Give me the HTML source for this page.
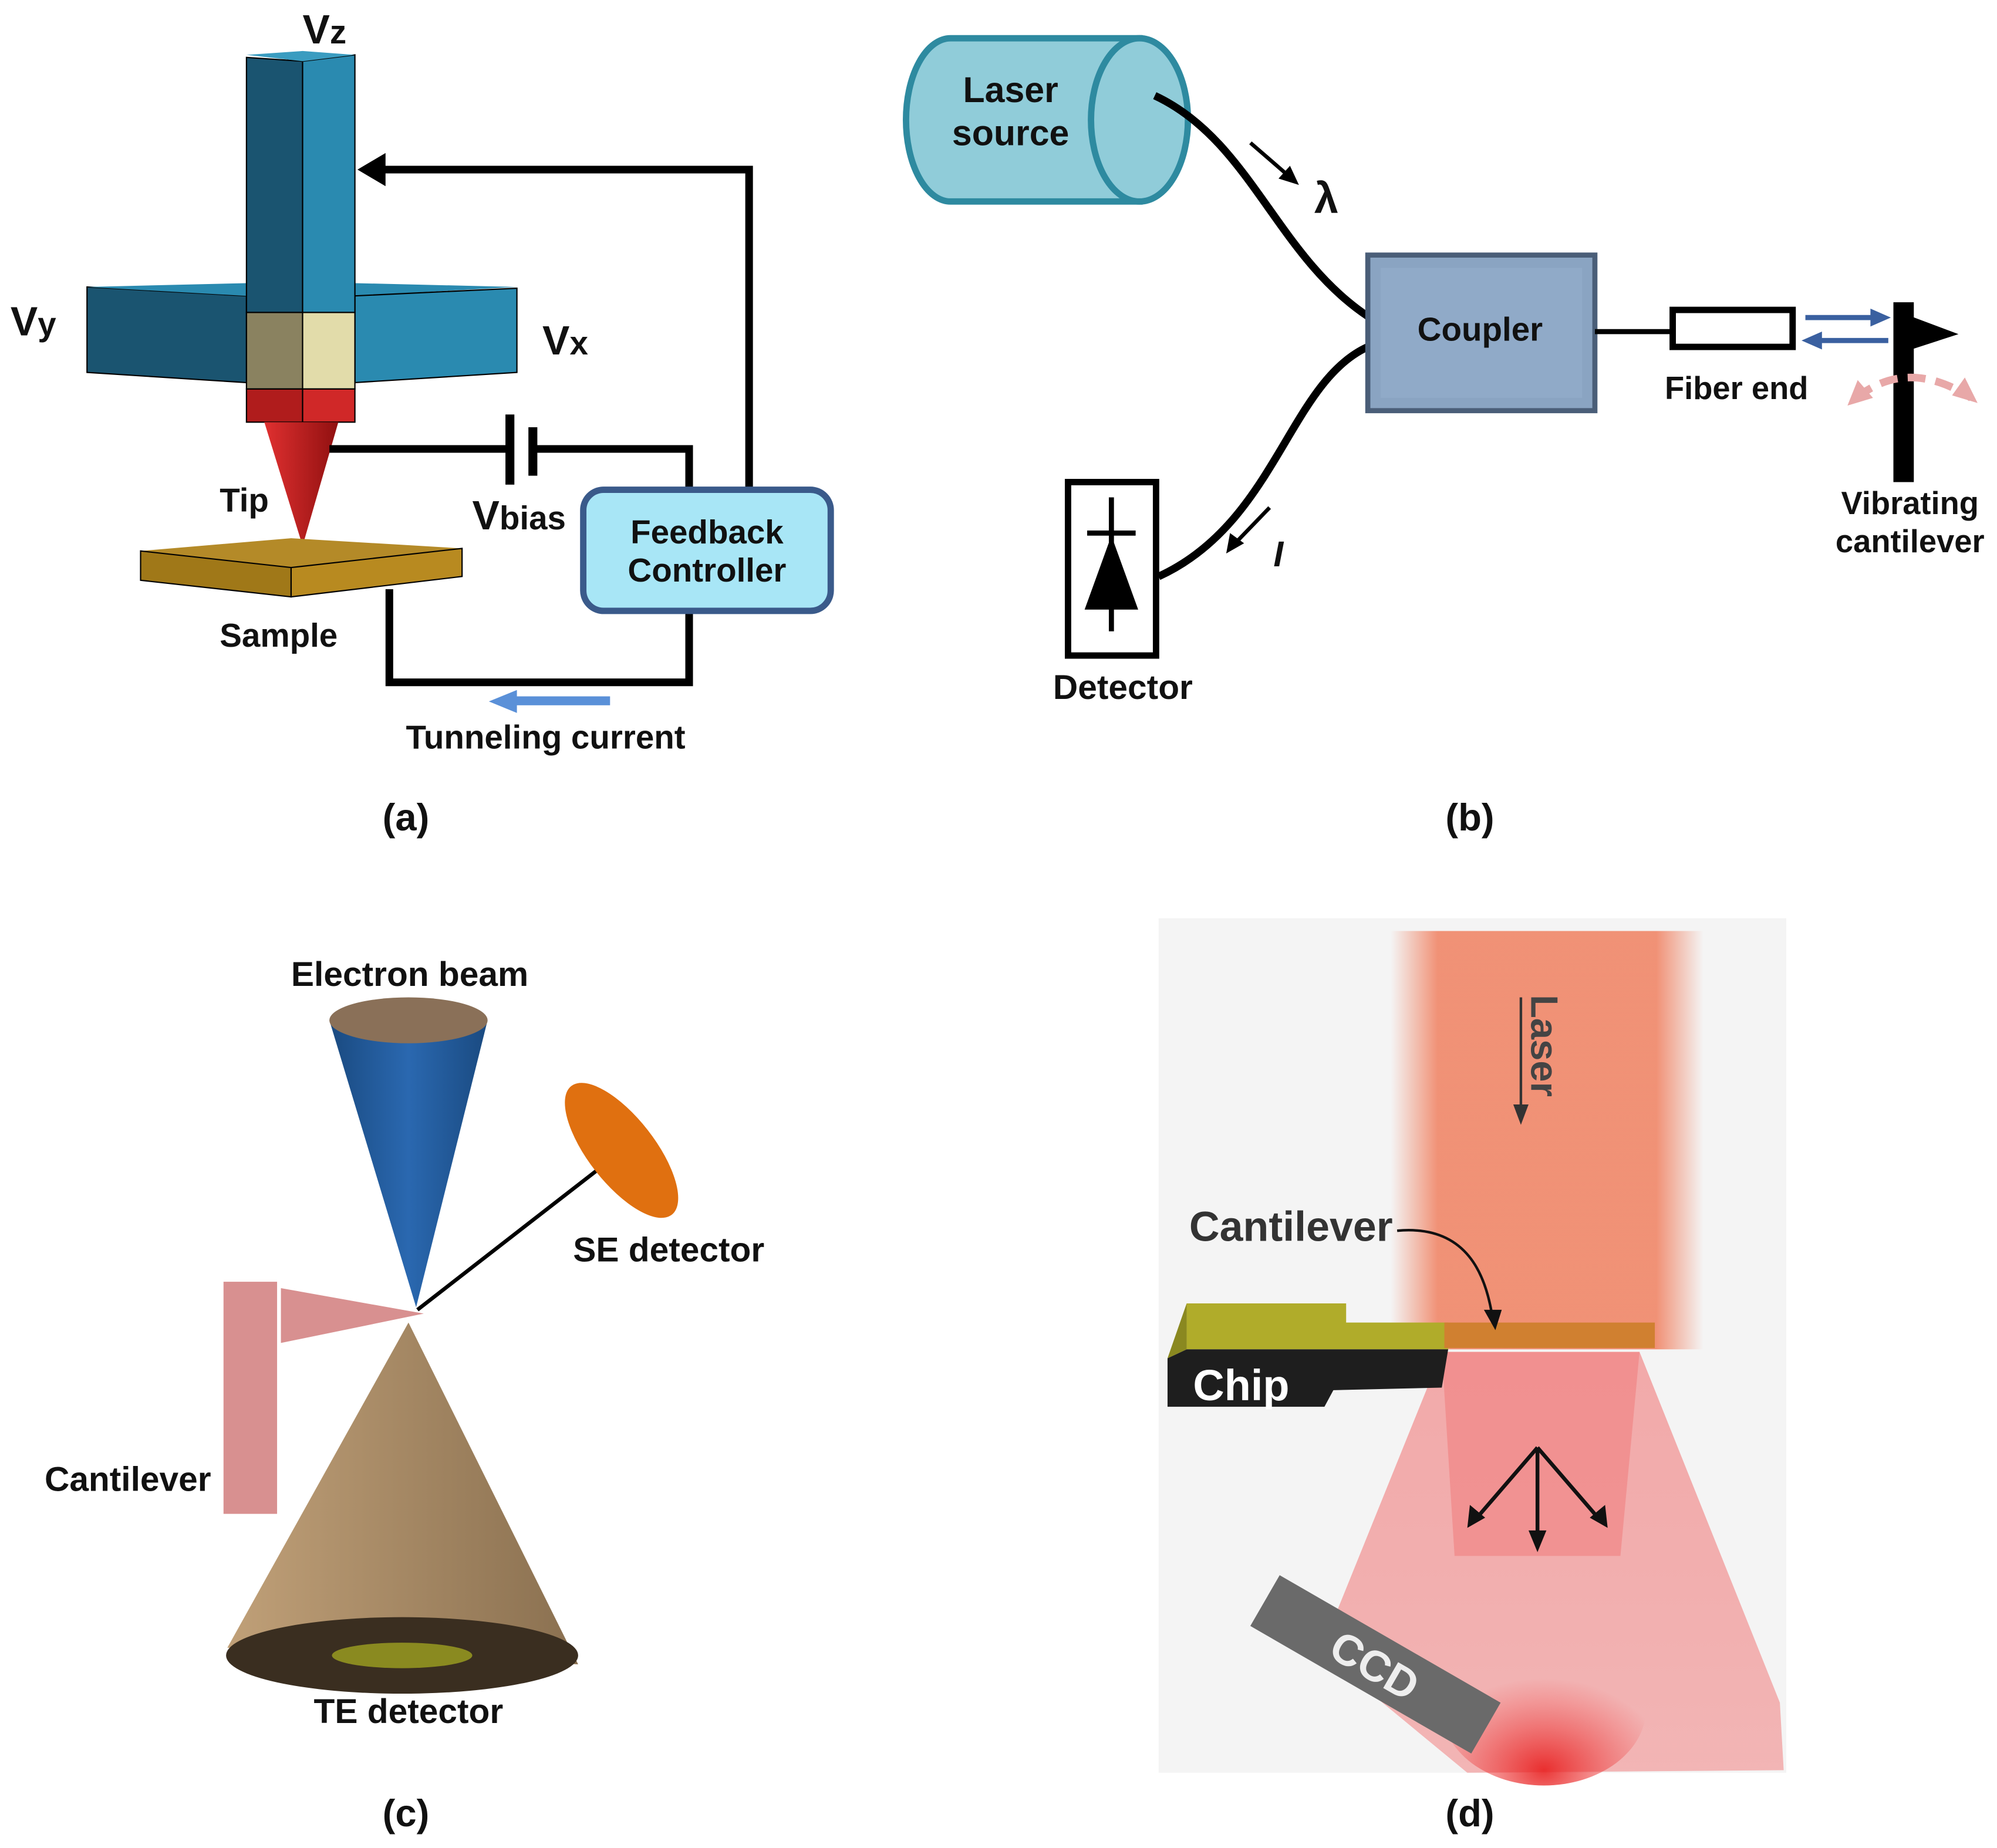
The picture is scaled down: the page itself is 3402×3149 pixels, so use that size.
<!DOCTYPE html>
<html><head><meta charset="utf-8"><style>
html,body{margin:0;padding:0;background:#fff}
svg{display:block}
text{font-family:"Liberation Sans",sans-serif;font-weight:bold;fill:#111}
</style></head><body>
<svg width="3402" height="3149" viewBox="0 0 1565 1449" xmlns="http://www.w3.org/2000/svg">
<defs>
<linearGradient id="lz" x1="0" x2="1"><stop offset="0" stop-color="#f08060" stop-opacity="0"/><stop offset="0.15" stop-color="#f08060" stop-opacity="0.85"/><stop offset="0.85" stop-color="#f08060" stop-opacity="0.85"/><stop offset="1" stop-color="#f08060" stop-opacity="0"/></linearGradient>
<linearGradient id="fan" x1="0" y1="0" x2="0" y2="1"><stop offset="0" stop-color="#f06060" stop-opacity="0.5"/><stop offset="1" stop-color="#f04040" stop-opacity="0.35"/></linearGradient>
<radialGradient id="spot" cx="0.5" cy="0.9" r="0.6"><stop offset="0" stop-color="#e82020" stop-opacity="0.9"/><stop offset="1" stop-color="#f04040" stop-opacity="0"/></radialGradient>
<linearGradient id="tip" x1="0" x2="1"><stop offset="0" stop-color="#e03030"/><stop offset="1" stop-color="#901010"/></linearGradient>
<linearGradient id="cone" x1="0" x2="1"><stop offset="0" stop-color="#c0a078"/><stop offset="1" stop-color="#8a7050"/></linearGradient>
<linearGradient id="blue" x1="0" x2="1"><stop offset="0" stop-color="#1a4a80"/><stop offset="0.5" stop-color="#2a68b0"/><stop offset="1" stop-color="#1a4a80"/></linearGradient>
</defs>

<!-- Panel (a) -->
<polygon points="68,225 193,232 193,300 68,292" fill="#1a5470" stroke="#000" stroke-width="1"/>
<polygon points="68,225 193,222 278,222 405,225 278,232 193,232" fill="#2a8ab0"/>
<polygon points="278,232 405,226 405,292 278,300" fill="#2a8ab0" stroke="#000" stroke-width="1"/>
<polygon points="193,45 237,48 237,245 193,245" fill="#1a5470" stroke="#000" stroke-width="1"/>
<polygon points="237,48 278,43 278,245 237,245" fill="#2a8ab0" stroke="#000" stroke-width="1"/>
<polygon points="193,43 237,40 278,43 237,48" fill="#3a9cc0"/>
<rect x="193" y="245" width="44" height="60" fill="#8a8260" stroke="#000" stroke-width="1"/>
<rect x="237" y="245" width="41" height="60" fill="#e2dcaa" stroke="#000" stroke-width="1"/>
<rect x="193" y="305" width="44" height="26" fill="#b01c1c" stroke="#000" stroke-width="1"/>
<rect x="237" y="305" width="41" height="26" fill="#d02828" stroke="#000" stroke-width="1"/>
<polygon points="207,331 265,331 237,428" fill="url(#tip)"/>
<polygon points="110,432 228,422 362,430 228,445" fill="#b48a28"/>
<polygon points="110,432 228,445 228,468 110,455" fill="#a07818" stroke="#000" stroke-width="1"/>
<polygon points="228,445 362,430 362,452 228,468" fill="#b88a20" stroke="#000" stroke-width="1"/>
<g fill="none" stroke="#000" stroke-width="6">
<polyline points="587,383 587,133 300,133"/>
<polyline points="258,352 400,352"/>
<polyline points="418,352 540,352 540,383"/>
<polyline points="305,462 305,535 540,535 540,480"/>
</g>
<polygon points="280,133 302,120 302,146" fill="#000"/>
<rect x="396" y="325" width="7" height="55" fill="#000"/>
<rect x="414" y="335" width="7" height="38" fill="#000"/>
<rect x="457" y="384" width="194" height="95" rx="16" fill="#a8e6f6" stroke="#3a5a8a" stroke-width="5"/>
<text x="554" y="426" font-size="26" text-anchor="middle">Feedback</text>
<text x="554" y="456" font-size="26" text-anchor="middle">Controller</text>
<rect x="400" y="546" width="78" height="7" fill="#5a90d8"/>
<polygon points="383,550 405,541 405,559" fill="#5a90d8"/>
<text x="237" y="34" font-size="32">V<tspan font-size="26">z</tspan></text>
<text x="8" y="263" font-size="32">V<tspan font-size="26">y</tspan></text>
<text x="425" y="278" font-size="32">V<tspan font-size="26">x</tspan></text>
<text x="172" y="401" font-size="26">Tip</text>
<text x="370" y="415" font-size="32">V<tspan font-size="26">bias</tspan></text>
<text x="172" y="507" font-size="26">Sample</text>
<text x="318" y="587" font-size="26">Tunneling current</text>
<text x="318" y="651" font-size="30" text-anchor="middle">(a)</text>

<!-- Panel (b) -->
<path d="M745,30 L893,30 L893,158 L745,158 A35,64 0 0 1 745,30 Z" fill="#90ccd9" stroke="#2e8aa0" stroke-width="5"/>
<ellipse cx="893" cy="94" rx="38" ry="64" fill="#90ccd9" stroke="#2e8aa0" stroke-width="5"/>
<text x="792" y="80" font-size="28" text-anchor="middle">Laser</text>
<text x="792" y="114" font-size="28" text-anchor="middle">source</text>
<path d="M905,75 C980,110 1000,200 1072,248" fill="none" stroke="#000" stroke-width="6"/>
<path d="M1072,272 C1010,300 1000,410 908,452" fill="none" stroke="#000" stroke-width="6"/>
<rect x="1072" y="200" width="178" height="122" fill="#8aa4c2" stroke="#4a5e78" stroke-width="4"/>
<rect x="1082" y="210" width="158" height="102" fill="#90aac8"/>
<text x="1160" y="267" font-size="26" text-anchor="middle">Coupler</text>
<line x1="1250" y1="260" x2="1310" y2="260" stroke="#000" stroke-width="4"/>
<rect x="1311" y="243" width="94" height="29" fill="#fff" stroke="#000" stroke-width="5"/>
<line x1="1415" y1="249" x2="1470" y2="249" stroke="#3a60a0" stroke-width="4"/>
<polygon points="1482,249 1466,242 1466,256" fill="#3a60a0"/>
<line x1="1425" y1="267" x2="1480" y2="267" stroke="#3a60a0" stroke-width="4"/>
<polygon points="1412,267 1428,260 1428,274" fill="#3a60a0"/>
<rect x="1484" y="237" width="16" height="141" fill="#000"/>
<polygon points="1495,247 1535,262 1495,275" fill="#000"/>
<path d="M1455,312 Q1495,280 1545,312" fill="none" stroke="#e8a8a8" stroke-width="6" stroke-dasharray="14,8"/>
<polygon points="1448,318 1456,298 1468,312" fill="#e8a8a8"/>
<polygon points="1550,316 1540,296 1530,310" fill="#e8a8a8"/>
<text x="1361" y="313" font-size="25" text-anchor="middle">Fiber end</text>
<text x="1497" y="403" font-size="25" text-anchor="middle">Vibrating</text>
<text x="1497" y="433" font-size="25" text-anchor="middle">cantilever</text>
<rect x="837" y="378" width="69" height="136" fill="#fff" stroke="#000" stroke-width="5"/>
<line x1="871" y1="390" x2="871" y2="495" stroke="#000" stroke-width="4"/>
<line x1="852" y1="418" x2="890" y2="418" stroke="#000" stroke-width="4"/>
<polygon points="871,420 850,478 892,478" fill="#000"/>
<text x="880" y="548" font-size="27" text-anchor="middle">Detector</text>
<line x1="980" y1="112" x2="1010" y2="138" stroke="#000" stroke-width="3"/>
<polygon points="1018,145 1002,140 1011,130" fill="#000"/>
<text x="1030" y="167" font-size="34" font-weight="normal">λ</text>
<line x1="995" y1="398" x2="968" y2="426" stroke="#000" stroke-width="3"/>
<polygon points="961,434 964,418 975,426" fill="#000"/>
<text x="998" y="444" font-size="28" font-style="italic">I</text>
<text x="1152" y="651" font-size="30" text-anchor="middle">(b)</text>

<!-- Panel (c) -->
<polygon points="258,800 382,800 326,1025" fill="url(#blue)"/>
<ellipse cx="320" cy="800" rx="62" ry="18" fill="#8a7058"/>
<line x1="327" y1="1027" x2="475" y2="912" stroke="#000" stroke-width="3"/>
<ellipse cx="487" cy="902" rx="26" ry="64" fill="#e07010" transform="rotate(-38 487 902)"/>
<rect x="175" y="1005" width="42" height="182" fill="#d89090"/>
<polygon points="220,1010 332,1030 220,1053" fill="#d89090"/>
<polygon points="320,1037 178,1292 453,1305" fill="url(#cone)"/>
<ellipse cx="315" cy="1298" rx="138" ry="30" fill="#3a2e20"/>
<ellipse cx="315" cy="1298" rx="55" ry="10" fill="#8a8a20"/>
<text x="321" y="773" font-size="27" text-anchor="middle">Electron beam</text>
<text x="524" y="989" font-size="27" text-anchor="middle">SE detector</text>
<text x="100" y="1169" font-size="27" text-anchor="middle">Cantilever</text>
<text x="320" y="1351" font-size="27" text-anchor="middle">TE detector</text>
<text x="318" y="1432" font-size="30" text-anchor="middle">(c)</text>

<!-- Panel (d) -->
<rect x="908" y="720" width="492" height="670" fill="#f4f4f4"/>
<rect x="1090" y="730" width="245" height="328" fill="url(#lz)"/>
<polygon points="1130,1060 1285,1060 1395,1335 1398,1388 1150,1390 1035,1295" fill="url(#fan)"/>
<polygon points="1130,1060 1285,1060 1270,1220 1205,1220 1140,1220" fill="#f07070" opacity="0.45"/>
<ellipse cx="1210" cy="1340" rx="80" ry="60" fill="url(#spot)"/>
<text x="1200" y="780" font-size="30" font-weight="normal" transform="rotate(90 1200 780)" style="fill:#444">Laser</text>
<line x1="1192" y1="782" x2="1192" y2="872" stroke="#333" stroke-width="2"/>
<polygon points="1192,882 1186,866 1198,866" fill="#333"/>
<polygon points="930,1022 1055,1022 1055,1037 1135,1037 1135,1058 930,1058" fill="#b0ac2a"/>
<polygon points="915,1065 930,1058 1135,1058 1130,1088 1045,1090 1038,1103 915,1103" fill="#1e1e1e"/>
<polygon points="930,1022 915,1065 930,1058" fill="#8a8820"/>
<rect x="1132" y="1037" width="165" height="20" fill="#d08030"/>
<text x="935" y="1098" font-size="34" font-weight="normal" style="fill:#fff">Chip</text>
<text x="932" y="973" font-size="33" font-weight="normal" style="fill:#333">Cantilever</text>
<path d="M1095,965 C1150,960 1165,1000 1170,1035" fill="none" stroke="#111" stroke-width="2"/>
<polygon points="1172,1043 1163,1027 1177,1027" fill="#111"/>
<g stroke="#111" stroke-width="3">
<line x1="1205" y1="1135" x2="1155" y2="1193"/><line x1="1205" y1="1135" x2="1205" y2="1210"/><line x1="1205" y1="1135" x2="1255" y2="1193"/>
</g>
<polygon points="1150,1198 1152,1180 1164,1190" fill="#111"/>
<polygon points="1205,1217 1198,1200 1212,1200" fill="#111"/>
<polygon points="1260,1198 1246,1190 1258,1180" fill="#111"/>
<g transform="rotate(30 1078 1305)">
<rect x="978" y="1282" width="200" height="46" fill="#6a6a6a"/>
<text x="1078" y="1318" font-size="34" font-weight="normal" text-anchor="middle" style="fill:#eee">CCD</text>
</g>
<text x="1152" y="1432" font-size="30" text-anchor="middle">(d)</text>
</svg>
</body></html>
